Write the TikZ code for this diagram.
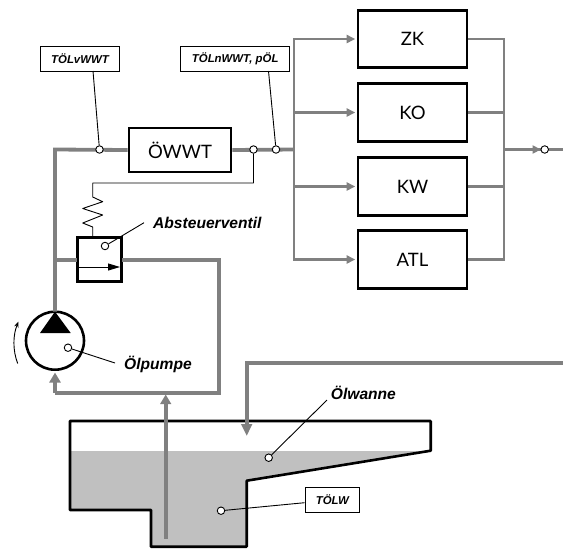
\documentclass[tikz,border=0pt]{standalone}
\usepackage{fontspec}
\setmainfont{Liberation Sans}
\newfontfamily\boxfont{Lato}
\usetikzlibrary{arrows.meta,calc}
\definecolor{pipe}{HTML}{808080}
\definecolor{oil}{HTML}{C0C0C0}
\tikzset{
  x=1pt,y=-1pt,
  comp/.style={draw=black,line width=2.6pt,fill=white,inner sep=0pt,font=\boxfont\fontsize{18.5}{19}\selectfont},
  tag/.style={draw=black,line width=0.9pt,fill=white,inner sep=0pt,font=\bfseries\itshape\fontsize{11.4}{12}\selectfont},
  callout/.style={inner sep=0pt,font=\bfseries\itshape\fontsize{15.6}{16}\selectfont},
  dot/.style={circle,draw=black,line width=0.9pt,fill=white,minimum size=7.5pt,inner sep=0pt},
  mainpipe/.style={draw=pipe,line width=3.8pt},
  branchpipe/.style={draw=pipe,line width=2.5pt},
  thin line/.style={draw=black,line width=0.9pt},
  grayhead/.style={-{Triangle[length=8.5pt,width=8pt]}},
}
\begin{document}
\begin{tikzpicture}
\useasboundingbox (0,0) rectangle (563,550);
% sump
\fill[oil] (70,451) -- (430.7,451) -- (246.7,480.7) -- (246.7,546.7) -- (151,546.7) -- (151,510) -- (70,510) -- cycle;
\coordinate (retA) at (563,362.7);
\coordinate (retB) at (246.7,362.7);
\coordinate (retC) at (246.7,436);
\coordinate (sucA) at (165.7,538.5);
\coordinate (sucB) at (165.7,394.5);
\draw[line width=2.6pt,line join=round] (70,421) -- (430.7,421) -- (430.7,450.7) -- (246.7,480.7) -- (246.7,546.7) -- (151,546.7) -- (151,510) -- (70,510) -- cycle;
\draw[mainpipe,-{Triangle[length=12pt,width=10.5pt]}] (retA) -- (retB) -- (retC);
\draw[mainpipe,-{Triangle[length=9.5pt,width=10.5pt]}] (sucA) -- (sucB);

% pump and valve shapes
\node[circle,draw=black,line width=2.6pt,fill=white,minimum size=58pt,inner sep=0pt] (pump) at (55,340.7) {};
\coordinate (pumpTip) at (55,311.7);
\node[draw=black,line width=2.6pt,fill=white,minimum width=44pt,minimum height=44pt,inner sep=0pt] (valve) at (99.5,259.5) {};

% main pipe
\node[comp,minimum width=102pt,minimum height=44pt] (owwt) at (180,150) {ÖWWT};
\coordinate (bend1) at (55,149.5);
\coordinate (jL) at (294,149.5);
\coordinate (jR) at (504,149.5);
\coordinate (teeV) at (55,260);
\coordinate (valveR) at (122,260);
\coordinate (valveL) at (77,260);
\coordinate (bypC) at (219,260);
\coordinate (bypD) at (219,393);
\coordinate (bypE) at (55,393);
\coordinate (pumpBot) at (55,372.5);
\coordinate (out) at (563,149.5);
\coordinate (outTip) at (541,149.5);
\draw[mainpipe] (pumpTip) -- (bend1) -- (owwt.west);
\draw[mainpipe] (owwt.east) -- (jL);
\draw[mainpipe] (teeV) -- (valveL);
\draw[mainpipe] (valveR) -- (bypC) -- (bypD) -- (bypE);
\draw[mainpipe,line cap=butt,-{Triangle[length=10pt,width=11pt]}] (bypE) -- (pumpBot);
\draw[mainpipe] (jR) -- (out);
\draw[branchpipe,grayhead] (jR) -- (outTip);

% consumers
\node[comp,minimum width=109pt,minimum height=57.5pt] (zk) at (412.5,39) {ZK};
\node[comp,minimum width=109pt,minimum height=57.5pt] (ko) at (412.5,112.5) {KO};
\node[comp,minimum width=109pt,minimum height=57.5pt] (kw) at (412.5,186.5) {KW};
\node[comp,minimum width=109pt,minimum height=57.5pt] (atl) at (412.5,259.5) {ATL};
\foreach \n in {zk,ko,kw,atl}{
  \draw[branchpipe,grayhead] (294,0 |- \n.west) -- ($(\n.west)+(-1.5,0)$);
  \draw[branchpipe] (\n.east) -- (504,0 |- \n.east);
}
\draw[branchpipe,line cap=rect] (294,0 |- zk.west) -- (294,0 |- atl.west);
\draw[branchpipe,line cap=rect] (504,0 |- zk.east) -- (504,0 |- atl.east);

% measuring points and tags
\node[dot] (p1) at (99.5,149.5) {};
\node[dot] (p2) at (253.5,149.5) {};
\node[dot] (p3) at (276,149.5) {};
\node[dot] (p4) at (544.7,149.5) {};
\node[tag,minimum width=79pt,minimum height=25pt] (t1) at (80,58.5) {TÖLvWWT};
\node[tag,minimum width=109pt,minimum height=25pt] (t2) at (235.2,58.5) {TÖLnWWT, pÖL};
\node[tag,minimum width=54.5pt,minimum height=24.5pt] (t3) at (332.3,500) {TÖLW};
\draw[thin line] (93,71) -- (p1);
\draw[thin line] (268.5,71) -- (p3);

% control line and spring
\coordinate (ctlA) at (253.5,183);
\coordinate (ctlB) at (92.7,183);
\coordinate (sprTop) at (92.7,197);
\coordinate (sprBot) at (92.7,227);
\draw[thin line,line join=round] (p2) -- (ctlA) -- (ctlB) -- (sprTop) -- (102.7,201.7) -- (82.7,208.5) -- (102.7,215) -- (82.7,223) -- (sprBot) -- (92.7,237);

% valve arrow
\draw[thin line,-{Triangle[length=12pt,width=7pt]}] (77,267) -- (120,267);
\node[dot] (p5) at (105,246) {};
\coordinate (c5) at (144,222.7);
\draw[thin line] (p5) -- (c5);
\node[callout,anchor=west] (absv) at (153,223) {Absteuerventil};

% pump details
\fill[black] (55,311.7) -- (70.7,333) -- (40,333) -- cycle;
\node[dot] (p6) at (68,347.7) {};
\coordinate (c6) at (115,363);
\draw[thin line] (p6) -- (c6);
\node[callout,anchor=west] (opump) at (124,364) {Ölpumpe};
\coordinate (rotA) at (17.7,363.5);
\coordinate (rotB) at (18.5,321.5);
\draw[thin line,-{Stealth[length=6pt,width=4.5pt]}] (rotA) .. controls (12.5,350) and (13,335) .. (rotB);

% sump details
\node[dot] (p7) at (268.7,457.7) {};
\node[callout,anchor=west] (owanne) at (330.7,392.7) {Ölwanne};
\coordinate (c7) at (327,400);
\draw[thin line] (p7) -- (c7);
\node[dot] (p8) at (221,510.7) {};
\draw[thin line] (p8) -- (t3.west |- 0,502.7);
\end{tikzpicture}
\end{document}
